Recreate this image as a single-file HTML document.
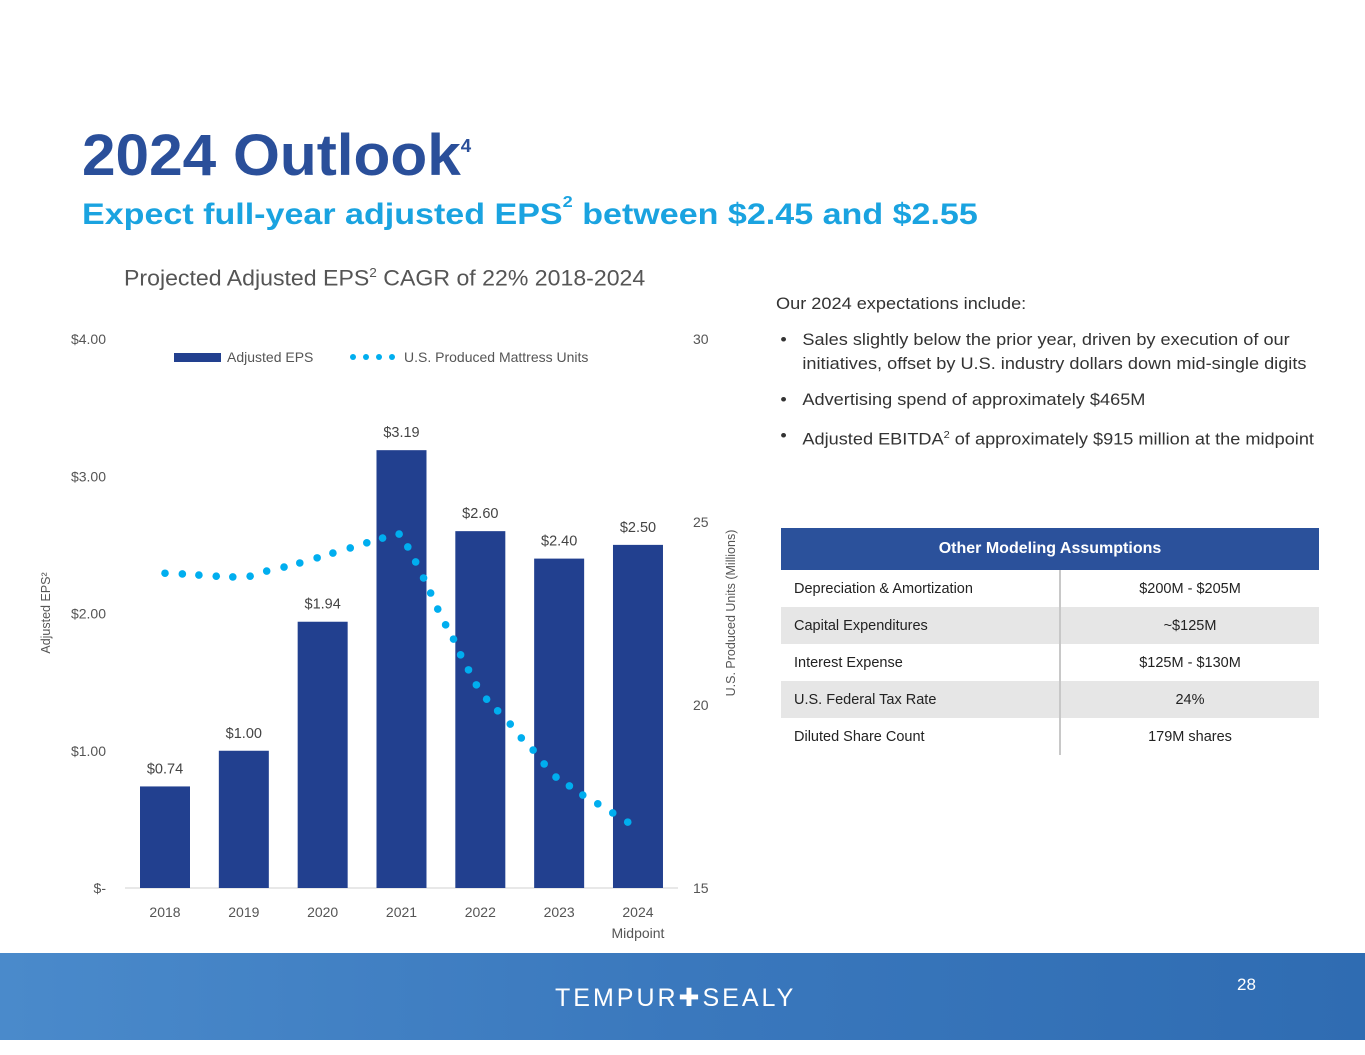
<!DOCTYPE html>
<html><head><meta charset="utf-8">
<style>
body{margin:0;width:1365px;height:1055px;position:relative;background:#fff;font-family:"Liberation Sans",sans-serif;overflow:hidden}
.abs{position:absolute}
#title{left:82px;top:122px;font-size:58px;font-weight:bold;color:#2a4f9a;transform:scaleX(1.04);transform-origin:left top}
#title sup{font-size:18px;vertical-align:top;position:relative;top:14px}
#sub{left:82px;top:198px;font-size:30px;font-weight:bold;color:#1aa3e0;transform:scaleX(1.135);transform-origin:left top}
#sub sup{font-size:16px;vertical-align:top;position:relative;top:-4px}
#ctitle{left:124px;top:265px;font-size:22px;color:#555;transform:scaleX(1.05);transform-origin:left top}
#ctitle sup{font-size:13px}
#notes{left:776px;top:292px;width:496px;font-size:16.5px;color:#333;line-height:24px;transform:scaleX(1.1);transform-origin:left top}
#notes .b{position:relative;padding-left:24px;margin-top:12px}
#notes .b:before{content:"•";position:absolute;left:4px}
table{position:absolute;left:781px;top:528px;width:538px;border-collapse:collapse;font-size:14.5px;color:#222}
th{background:#2b519b;color:#fff;height:40px;font-size:16px;font-weight:bold}
td{height:37px;padding:0}
td:first-child{padding-left:13px;width:265px;border-right:2px solid #c8c8c8}
td:last-child{text-align:center}
tr.g td{background:#e6e6e6}
#footer{left:0;top:953px;width:1365px;height:87px;background:linear-gradient(90deg,#4a8acb,#3a78bd 50%,#2f6cb2)}
</style></head><body>
<div id="title" class="abs">2024 Outlook<sup>4</sup></div>
<div id="sub" class="abs">Expect full-year adjusted EPS<sup>2</sup> between $2.45 and $2.55</div>
<div id="ctitle" class="abs">Projected Adjusted EPS<sup>2</sup> CAGR of 22% 2018-2024</div>
<div id="notes" class="abs">
<div>Our 2024 expectations include:</div>
<div class="b">Sales slightly below the prior year, driven by execution of our initiatives, offset by U.S. industry dollars down mid-single digits</div>
<div class="b">Advertising spend of approximately $465M</div>
<div class="b">Adjusted EBITDA<sup style="font-size:10px">2</sup> of approximately $915 million at the midpoint</div>
</div>
<table>
<tr><th colspan="2">Other Modeling Assumptions</th></tr>
<tr><td>Depreciation &amp; Amortization</td><td>$200M - $205M</td></tr>
<tr class="g"><td>Capital Expenditures</td><td>~$125M</td></tr>
<tr><td>Interest Expense</td><td>$125M - $130M</td></tr>
<tr class="g"><td>U.S. Federal Tax Rate</td><td>24%</td></tr>
<tr><td>Diluted Share Count</td><td>179M shares</td></tr>
</table>
<svg id="chart" class="abs" style="left:0;top:0" width="1365" height="1055"></svg>
<div id="footer" class="abs">
<div class="abs" style="left:1237px;top:22px;color:#fff;font-size:17px">28</div>
<div class="abs" style="left:555px;top:30px;color:#fff;font-size:25px;letter-spacing:3px">TEMPUR✚SEALY</div>
</div>
<script>
const categories=["2018","2019","2020","2021","2022","2023","2024"];
const eps=[0.74,1.00,1.94,3.19,2.60,2.40,2.50];
const epsLabels=["$0.74","$1.00","$1.94","$3.19","$2.60","$2.40","$2.50"];
const leftTicks=[0,1,2,3,4];
const leftTickLabels=["$-","$1.00","$2.00","$3.00","$4.00"];
const rightTicks=[15,20,25,30];
const unitsT=[0,0.22,0.43,0.65,0.86,1.08,1.29,1.51,1.71,1.93,2.13,2.35,2.56,2.76,2.97,3.08,3.18,3.28,3.37,3.46,3.56,3.66,3.75,3.85,3.95,4.08,4.22,4.38,4.52,4.67,4.81,4.96,5.13,5.30,5.49,5.68,5.87];
const unitsV=[23.6,23.58,23.55,23.52,23.5,23.52,23.66,23.77,23.88,24.02,24.15,24.29,24.43,24.56,24.67,24.32,23.91,23.47,23.06,22.62,22.19,21.8,21.37,20.96,20.55,20.16,19.84,19.48,19.1,18.77,18.39,18.03,17.79,17.54,17.3,17.05,16.8];
const svg=document.getElementById('chart');
const NS='http://www.w3.org/2000/svg';
const x0=165,step=78.83,yb=888,yt=339;
const xs=i=>x0+i*step;
const yL=v=>yb-(v/4)*(yb-yt);
const yR=v=>yb-((v-15)/15)*(yb-yt);
function mk(t,a,txt){const e=document.createElementNS(NS,t);for(const k in a)e.setAttribute(k,a[k]);if(txt!==undefined)e.textContent=txt;svg.appendChild(e);return e;}
const ax=mk('line',{x1:125,x2:678,y1:yb,y2:yb,stroke:'#d0d0d0'});


leftTicks.forEach((v,i)=>{const t=mk('text',{x:106,y:yL(v)+5,'text-anchor':'end','font-size':14,fill:'#555','font-family':'Liberation Sans'},leftTickLabels[i]);

});
rightTicks.forEach(v=>{const t=mk('text',{x:693,y:yR(v)+5,'font-size':14,fill:'#555','font-family':'Liberation Sans'},String(v));

});
categories.forEach((c,i)=>{
const b=mk('rect',{x:xs(i)-25,y:yL(eps[i]),width:50,height:yb-yL(eps[i]),fill:'#22408f'});


const l=mk('text',{x:xs(i),y:yL(eps[i])-13,'text-anchor':'middle','font-size':14.5,fill:'#444','font-family':'Liberation Sans'},epsLabels[i]);


const t=mk('text',{x:xs(i),y:917,'text-anchor':'middle','font-size':14,fill:'#555','font-family':'Liberation Sans'},c);


});
const mid=mk('text',{x:xs(6),y:938,'text-anchor':'middle','font-size':14,fill:'#555','font-family':'Liberation Sans'},'Midpoint');


unitsT.forEach((t,i)=>{const d=mk('circle',{cx:xs(t),cy:yR(unitsV[i]),r:3.8,fill:'#00aeef'});

});
const ly=mk('text',{transform:'translate(50,613) rotate(-90)','text-anchor':'middle','font-size':12.5,fill:'#555','font-family':'Liberation Sans'},'Adjusted EPS²');


const ry=mk('text',{transform:'translate(735,613) rotate(-90)','text-anchor':'middle','font-size':12.5,fill:'#555','font-family':'Liberation Sans'},'U.S. Produced Units (Millions)');


const lg1=mk('rect',{x:174,y:353,width:47,height:9,fill:'#22408f'});


const lt1=mk('text',{x:227,y:362,'font-size':14,fill:'#555','font-family':'Liberation Sans'},'Adjusted EPS');


[0,1,2,3].forEach(k=>{const d=mk('circle',{cx:353+k*13,cy:357,r:3,fill:'#00aeef'});

});
const lt2=mk('text',{x:404,y:362,'font-size':14,fill:'#555','font-family':'Liberation Sans'},'U.S. Produced Mattress Units');


</script>
</body></html>
